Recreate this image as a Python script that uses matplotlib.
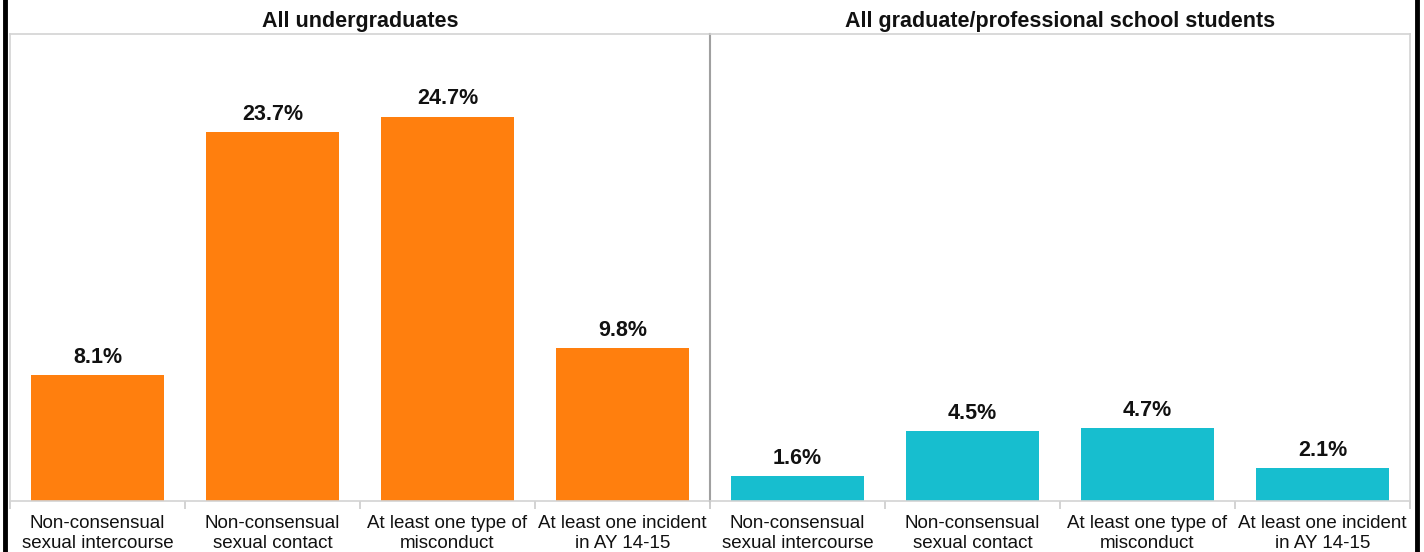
import matplotlib
matplotlib.use("Agg")
import matplotlib.pyplot as plt
from matplotlib.lines import Line2D
import numpy as np

plt.rcParams['font.family'] = ['Liberation Sans', 'DejaVu Sans']

categories = ["Non-consensual\nsexual intercourse",
              "Non-consensual\nsexual contact",
              "At least one type of\nmisconduct",
              "At least one incident\nin AY 14-15"]
undergrad = [8.1, 23.7, 24.7, 9.8]
graduate = [1.6, 4.5, 4.7, 2.1]
titles = ["All undergraduates", "All graduate/professional school students"]
colors = ["#FF7F0E", "#17BECF"]

W, H = 1424, 552
fig = plt.figure(figsize=(W / 100, H / 100), dpi=100)

panels = [(10, undergrad), (710, graduate)]
x = np.arange(len(categories))
for i, (left, vals) in enumerate(panels):
    ax = fig.add_axes([left / W, (H - 501) / H, 700 / W, 467 / H])
    ax.bar(x, vals, width=0.76, color=colors[i])
    for xi, v in zip(x, vals):
        ax.text(xi, v + 0.45, f"{v}%", ha='center', va='bottom',
                fontsize=15.5, fontweight='bold', color='#111111')
    ax.set_xlim(-0.5, 3.5)
    ax.set_ylim(0, 30)
    ax.set_yticks([])
    ax.set_xticks(x)
    ax.set_xticklabels(categories, fontsize=13.5, color='#111111', linespacing=1.22)
    ax.tick_params(axis='x', which='major', length=0, pad=10)
    ax.set_xticks(np.arange(-0.5, 4.0, 1.0), minor=True)
    ax.tick_params(axis='x', which='minor', length=6, color='#cccccc', width=1.2)
    for s in ax.spines.values():
        s.set_color('#d3d3d3')
        s.set_linewidth(1.2)
    if i == 0:
        ax.spines['right'].set_visible(False)
    else:
        ax.spines['left'].set_color('#a0a0a0')
        ax.spines['left'].set_linewidth(1.5)
    ax.set_title(titles[i], fontsize=15.5, fontweight='bold', color='#111111', pad=5)

# dark frame lines at both sides
for xp in (5, 1417):
    fig.add_artist(Line2D([xp / W, xp / W], [0, 1], color='black', linewidth=3.5,
                          transform=fig.transFigure))

fig.savefig("out.png", dpi=100)
